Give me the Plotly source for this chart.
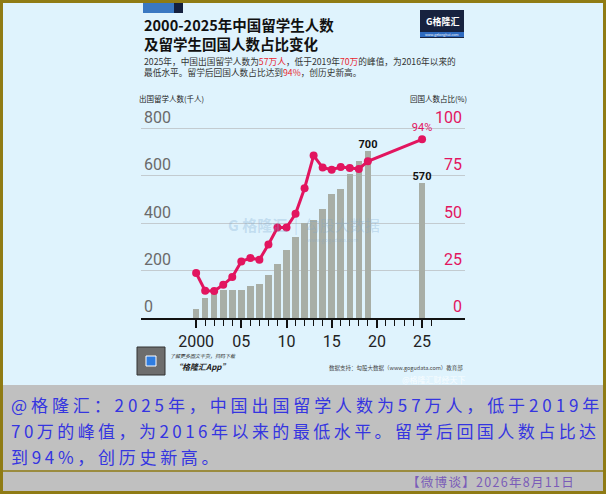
import plotly.graph_objects as go

# data
years = [2000, 2001, 2002, 2003, 2004, 2005, 2006, 2007, 2008, 2009,
         2010, 2011, 2012, 2013, 2014, 2015, 2016, 2017, 2018, 2019, 2025]
students = [39, 84, 118, 119, 116, 119, 134, 144, 180, 229,
            285, 340, 400, 414, 460, 524, 545, 608, 662, 703, 570]
return_pct = [23.7, 14.4, 14.2, 17.5, 21.6, 29.8, 31.6, 30.7, 38.8, 47.7,
              47.7, 54.9, 68.4, 85.6, 79.3, 78.2, 79.6, 79.1, 78.6, 82.6, 94.2]
bar_labels = [""] * 19 + ["700", "570"]
line_labels = [""] * 20 + ["94%"]

x_tickvals = [2000, 2005, 2010, 2015, 2020, 2025]
x_ticktext = ["2000", "05", "10", "15", "20", "25"]
minor_ticks = list(range(2000, 2029))
left_ticks = [0, 200, 400, 600, 800]
right_ticks = [0, 25, 50, 75, 100]

W, H = 606, 494
L, R, T, B = 141, 465, 100, 318

BORDER = "#8f7b14"
SKY = "#dff3fd"
GREY = "#c0c0c0"
PINK = "#e2155f"
BAR = "#a8aea6"
CJK = "Noto Sans CJK SC"


def px(x):
    return (x - L) / (R - L)


def py(y):
    return (B - y) / (B - T)


def spaced(s, sp):
    return '<span style="letter-spacing:%spx">%s</span>' % (sp, s)


fig = go.Figure()

fig.add_trace(go.Bar(
    x=years, y=students, width=0.72, marker_color=BAR, marker_line_width=0,
    text=bar_labels, textposition="outside", cliponaxis=False, constraintext="none",
    textfont=dict(family="Roboto", size=11, color="#111111", weight="bold"),
    hoverinfo="skip",
))
fig.add_trace(go.Scatter(
    x=years, y=return_pct, yaxis="y2", mode="lines+markers+text",
    line=dict(color=PINK, width=3), marker=dict(color=PINK, size=8),
    text=line_labels, textposition="top center", cliponaxis=False,
    textfont=dict(family="Roboto", size=11, color=PINK),
    hoverinfo="skip",
))

yr_top = (B - T) / ((B - 128.3) / 800)

fig.update_layout(
    width=W, height=H,
    margin=dict(l=L, r=W - R, t=T, b=H - B, pad=0),
    paper_bgcolor=BORDER, plot_bgcolor="rgba(0,0,0,0)",
    showlegend=False, bargap=0,
    xaxis=dict(
        range=[1993.9, 2029.75], tickmode="array", tickvals=x_tickvals, ticktext=x_ticktext,
        ticks="outside", ticklen=8, tickwidth=1.5, tickcolor="#111111",
        minor=dict(tickmode="array", tickvals=minor_ticks, ticks="outside",
                   ticklen=6, tickwidth=1.2, tickcolor="#111111"),
        showline=True, linecolor="#111111", linewidth=2, showgrid=False, zeroline=False,
        tickfont=dict(family="Roboto", size=16, color="#222222"),
        fixedrange=True,
    ),
    yaxis=dict(
        range=[0, yr_top], tickmode="array", tickvals=left_ticks,
        ticklabelposition="inside top", ticks="",
        showgrid=True, gridcolor="#c3cbd0", gridwidth=1, zeroline=False, showline=False,
        tickfont=dict(family="Roboto", size=16, color="#6a6a6a"),
        fixedrange=True,
    ),
    yaxis2=dict(
        range=[0, yr_top / 8], overlaying="y", side="right", tickmode="array",
        tickvals=right_ticks, ticklabelposition="inside top", ticks="",
        showgrid=False, zeroline=False, showline=False,
        tickfont=dict(family="Roboto", size=16, color=PINK),
        fixedrange=True,
    ),
)


def box(x0, x1, y0, y1, fill, line=None):
    return dict(type="rect", xref="paper", yref="paper",
                x0=px(x0), x1=px(x1), y0=py(y0), y1=py(y1),
                fillcolor=fill, line=line or dict(width=0), layer="below")


shapes = [
    # infographic panel and weibo text panel
    box(3, 603, 3, 385, SKY),
    box(3, 603, 385, 491, GREY),
    dict(type="line", xref="paper", yref="paper", x0=px(3), x1=px(603), y0=py(471), y1=py(471),
         line=dict(color=BORDER, width=1.5), layer="below"),
    # header strip
    box(143, 174, 3, 13, "#3a78c2"),
    box(174, 183, 3, 13, "#14203e"),
    # logo box
    box(420, 464, 10, 38, "#17223f"),
    box(420, 464, 32, 37, "#2f6bc0"),
    # QR code
    box(137, 165, 347, 375, "#6d6d6d", dict(color="#333333", width=1)),
    box(146, 156, 356, 366, "#2f7de0", dict(color="white", width=1)),
]
fig.update_layout(shapes=shapes)


def note(text, x, y, size, color="#222222", xanchor="left", yanchor="middle", family=CJK, **kw):
    fig.add_annotation(text=text, x=px(x), y=py(y), xref="paper", yref="paper",
                       xanchor=xanchor, yanchor=yanchor, showarrow=False,
                       font=dict(family=family, size=size, color=color, **kw), align="left")


RED = "#e8262f"
note("<b>2000-2025年中国留学生人数<br>及留学生回国人数占比变化</b>", 142, 34, 14.5, "#111111")
note("2025年，中国出国留学人数为<span style='color:%s'>57万人</span>，低于2019年"
     "<span style='color:%s'>70万</span>的峰值，为2016年以来的<br>"
     "最低水平。留学后回国人数占比达到<span style='color:%s'>94%%</span>，创历史新高。" % (RED, RED, RED),
     142, 67, 8.7, "#333333")
note("出国留学人数(千人)", 137, 99, 7.5, "#222222")
note("回国人数占比(%)", 469, 99, 7.5, "#222222", xanchor="right")

# logo
note("<b>G格隆汇</b>", 442, 21, 9, "white", xanchor="center")
note("www.gelonghui.com", 442, 34.5, 3.5, "white", xanchor="center")

# watermark
note("<b>G 格隆汇</b>  |  勾股大数据", 304, 224, 15, "rgba(120,165,205,0.3)", xanchor="center")
note("www.gogudata.com", 332, 240, 5.5, "rgba(120,165,205,0.35)", xanchor="center")

# footer of the infographic
note("<i>了解更多图文干货，扫码下载</i>", 168, 355, 5, "#333333")
note("<b><i>“格隆汇App”</i></b>", 172, 366, 8, "#222222")
note("数据支持：勾股大数据（www.gogudata.com）教育部", 465, 368, 5.5, "#444444", xanchor="right")
note("@格隆汇财经天下", 468, 379, 8, "rgba(255,255,255,0.75)", xanchor="right")

# weibo text
BLUE = "#3535e0"
note(spaced("@格隆汇：2025年，中国出国留学人数为57万人，低于2019年", 3.9), 9, 404, 17, BLUE)
note(spaced("70万的峰值，为2016年以来的最低水平。留学后回国人数占比达", 3.45), 9, 430, 17, BLUE)
note(spaced("到94%，创历史新高。", 3.7), 9, 456, 17, BLUE)
note(spaced("【微博谈】2026年8月11日", 1.3), 577, 481, 12.5, "#7a5cb8", xanchor="right")

fig.write_html("out.html", config={"displayModeBar": False},
               post_script="document.body.style.margin='0';document.body.style.overflow='hidden';")
